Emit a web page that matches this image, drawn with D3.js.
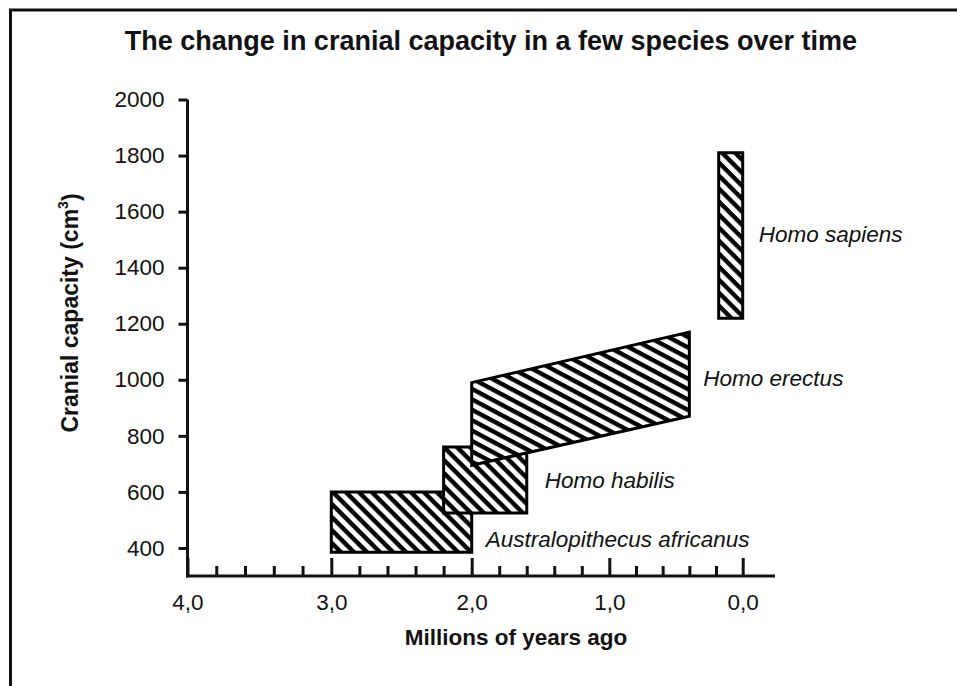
<!DOCTYPE html>
<html>
<head>
<meta charset="utf-8">
<script src="https://cdn.jsdelivr.net/npm/d3@7"></script>
<style>
  html, body { margin: 0; padding: 0; background: #fff; }
  svg { display: block; font-family: "Liberation Sans", Arial, sans-serif; }
</style>
</head>
<body>
<svg id="chart" width="957" height="686"></svg>
<script>
// Species ranges: time span (millions of years ago) and cranial capacity (cm³)
const species = ["Australopithecus africanus", "Homo habilis", "Homo erectus", "Homo sapiens"];
const startMya = [3.0, 2.2, 2.0, 0.18];
const endMya   = [2.0, 1.6, 0.4, 0.0];
// capacity at the start (older) and end (younger) of each range
const lowStart  = [385, 525, 695, 1220];
const highStart = [600, 760, 990, 1810];
const lowEnd    = [385, 525, 870, 1220];
const highEnd   = [600, 760, 1170, 1810];

const yTicks = [400, 600, 800, 1000, 1200, 1400, 1600, 1800, 2000];
const xMajorTicks = [4.0, 3.0, 2.0, 1.0, 0.0];
const xMinorTicks = [3.8, 3.6, 3.4, 3.2, 2.8, 2.6, 2.4, 2.2, 1.8, 1.6, 1.4, 1.2, 0.8, 0.6, 0.4, 0.2];

const svg = d3.select("#chart");
const FONT = "'Liberation Sans', Arial, sans-serif";

// frame around the figure
svg.append("rect")
  .attr("x", 10.5).attr("y", 10).attr("width", 960).attr("height", 700)
  .attr("fill", "none").attr("stroke", "#111").attr("stroke-width", 3);

// hatch patterns
const defs = svg.append("defs");
function hatch(id, angle) {
  const p = defs.append("pattern")
    .attr("id", id)
    .attr("patternUnits", "userSpaceOnUse")
    .attr("width", 20).attr("height", 9.2)
    .attr("patternTransform", `rotate(${angle})`);
  p.append("rect").attr("width", 20).attr("height", 9.2).attr("fill", "#fff");
  p.append("rect").attr("y", 0).attr("width", 20).attr("height", 4.4).attr("fill", "#000");
}
hatch("hatch45", 45);
hatch("hatch27", 28);

// scales: the printed time axis is slightly uneven, so use a piecewise scale
const x = d3.scaleLinear()
  .domain([4, 3, 2, 1, 0, -0.245])
  .range([187.5, 331.3, 471.7, 609.3, 742.7, 775]);
const y = d3.scaleLinear().domain([300, 2000]).range([576, 99.5]);

const loc = d3.formatLocale({ decimal: ",", thousands: ".", grouping: [3], currency: ["", ""] });
const fmtX = loc.format(".1f");

// y axis
const gy = svg.append("g")
  .attr("transform", `translate(${x(4)},0)`)
  .call(d3.axisLeft(y).tickValues(yTicks).tickSize(9).tickSizeOuter(0).tickPadding(14).tickFormat(d3.format("d")));
gy.select(".domain").attr("stroke", "#111").attr("stroke-width", 3)
  .attr("d", `M0,${y(2000)}V${y(300) + 1.5}`);
gy.selectAll(".tick line").attr("stroke", "#111").attr("stroke-width", 3);
gy.selectAll(".tick text").attr("font-size", 22.5).attr("fill", "#111").attr("font-family", FONT);

// x axis: minor and major ticks pointing up into the plot
const gxMinor = svg.append("g")
  .attr("transform", `translate(0,${y(300)})`)
  .call(d3.axisBottom(x).tickValues(xMinorTicks).tickSize(-10).tickSizeOuter(0).tickFormat(""));
gxMinor.select(".domain").remove();
gxMinor.selectAll(".tick line").attr("stroke", "#111").attr("stroke-width", 3);

const gx = svg.append("g")
  .attr("transform", `translate(0,${y(300)})`)
  .call(d3.axisBottom(x).tickValues(xMajorTicks).tickSize(-18).tickSizeOuter(0).tickPadding(18).tickFormat(fmtX));
gx.select(".domain").attr("stroke", "#111").attr("stroke-width", 3)
  .attr("d", `M${x(4) - 1.5},0H${x(-0.245)}`);
gx.selectAll(".tick line").attr("stroke", "#111").attr("stroke-width", 3);
gx.selectAll(".tick text").attr("font-size", 22.5).attr("fill", "#111").attr("font-family", FONT);

// species shapes
const patterns = ["hatch45", "hatch45", "hatch27", "hatch45"];
species.forEach((name, i) => {
  const pts = [
    [x(startMya[i]), y(lowStart[i])],
    [x(startMya[i]), y(highStart[i])],
    [x(endMya[i]), y(highEnd[i])],
    [x(endMya[i]), y(lowEnd[i])]
  ];
  svg.append("path")
    .attr("d", d3.line()(pts) + "Z")
    .attr("fill", `url(#${patterns[i]})`)
    .attr("stroke", "#000").attr("stroke-width", 3)
    .attr("stroke-linejoin", "miter");
});

// species names, placed beside each range
const labelTime = [2.0, 1.6, 0.4, 0.0];
const labelCap  = [430, 643, 1005, 1520];
const labelGap  = [14, 18, 14, 16];
species.forEach((name, i) => {
  svg.append("text")
    .attr("x", x(labelTime[i]) + labelGap[i])
    .attr("y", y(labelCap[i]))
    .attr("dy", "0.35em")
    .attr("font-size", 22.5).attr("font-style", "italic").attr("fill", "#111")
    .text(name);
});

// titles
svg.append("text")
  .attr("x", 491).attr("y", 50)
  .attr("text-anchor", "middle")
  .attr("font-size", 27).attr("font-weight", "bold").attr("fill", "#111")
  .text("The change in cranial capacity in a few species over time");

svg.append("text")
  .attr("x", 516).attr("y", 645)
  .attr("text-anchor", "middle")
  .attr("font-size", 22.5).attr("font-weight", "bold").attr("fill", "#111")
  .text("Millions of years ago");

const yl = svg.append("text")
  .attr("transform", "translate(78,313) rotate(-90)")
  .attr("text-anchor", "middle")
  .attr("font-size", 23).attr("font-weight", "bold").attr("fill", "#111");
yl.append("tspan").text("Cranial capacity (cm");
yl.append("tspan").attr("font-size", 14).attr("dy", "-0.7em").text("3");
yl.append("tspan").attr("dy", "0.45em").text(")");
</script>
</body>
</html>
